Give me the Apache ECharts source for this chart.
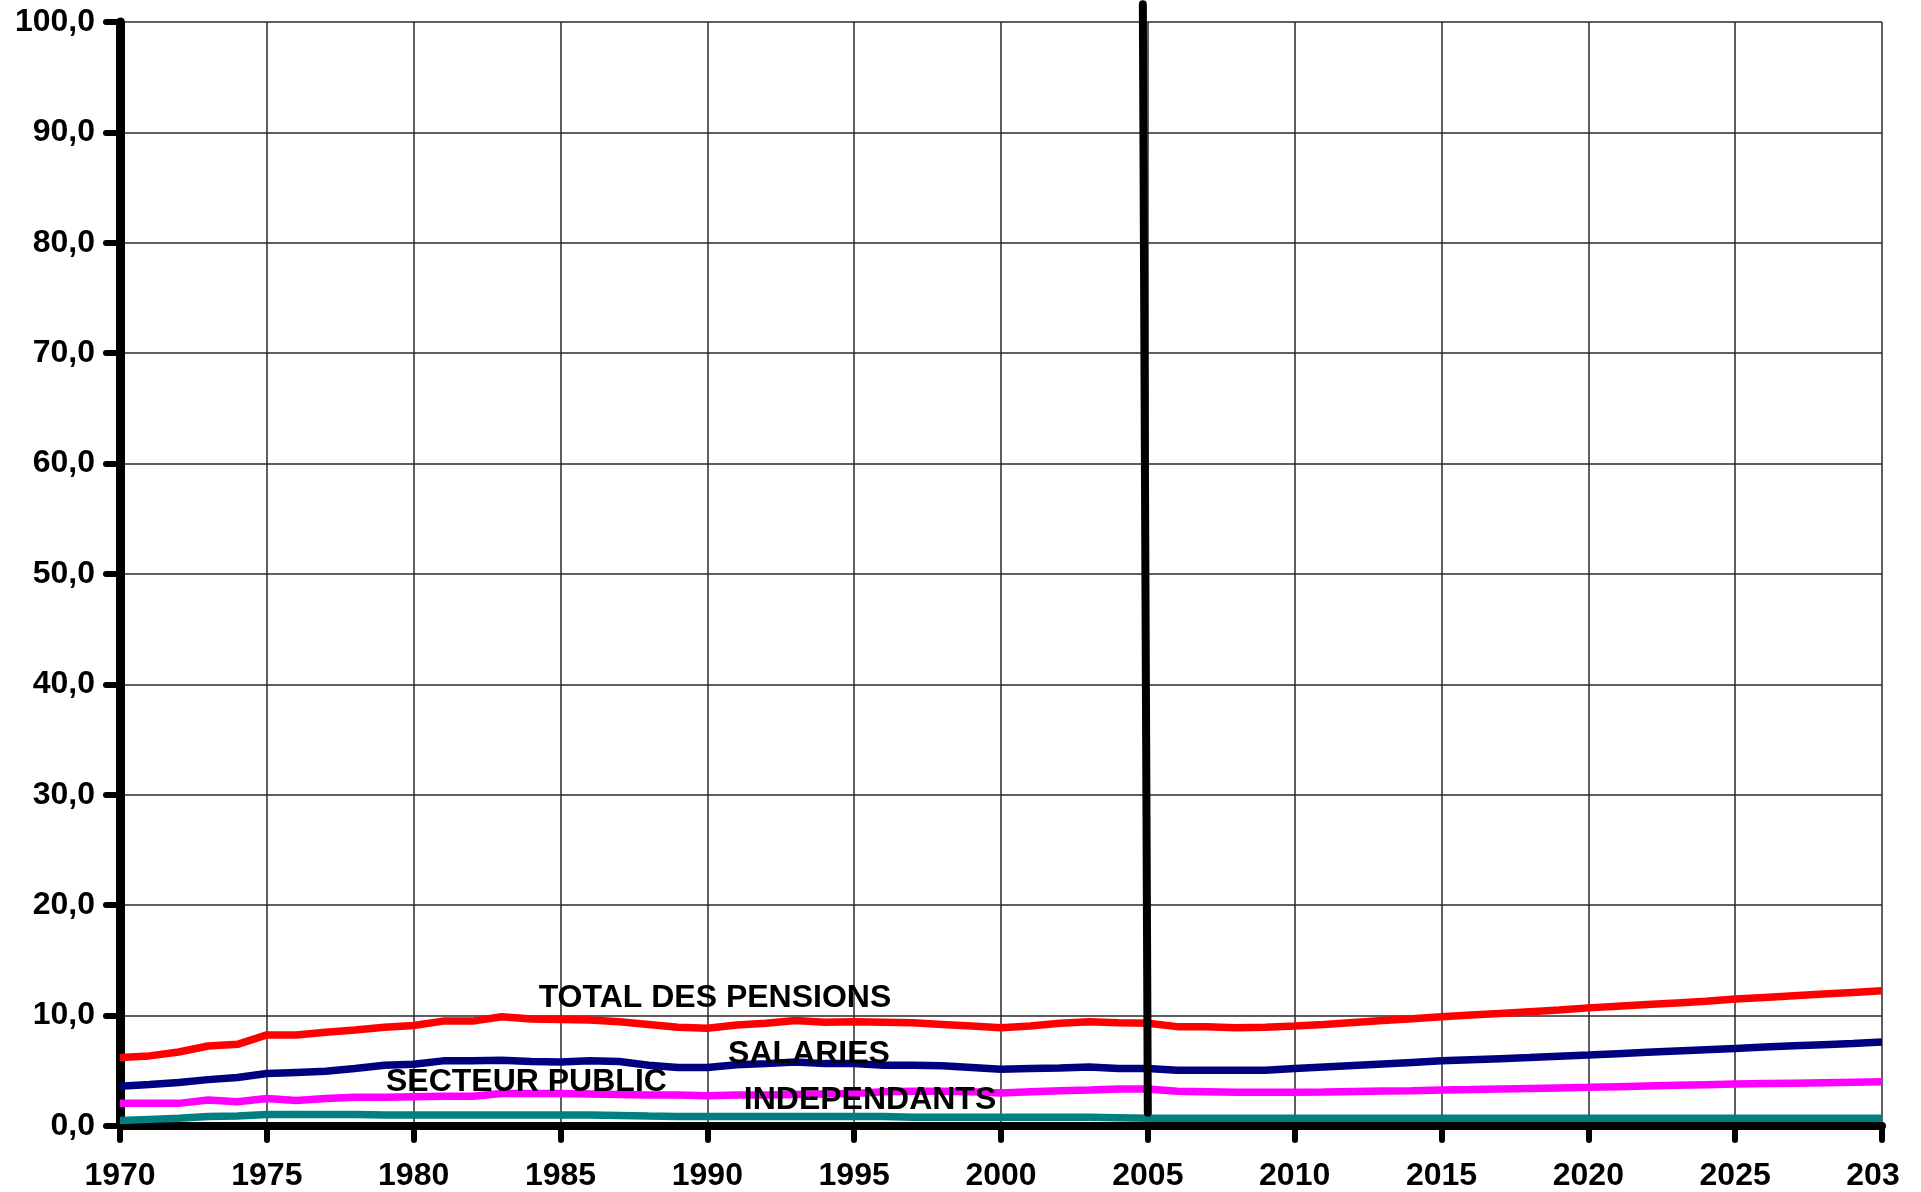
<!DOCTYPE html>
<html>
<head>
<meta charset="utf-8">
<script src="https://cdn.jsdelivr.net/npm/echarts@6/dist/echarts.min.js"></script>
<style>
html,body{margin:0;padding:0;background:#fff;}
#chart{width:1921px;height:1192px;}
</style>
</head>
<body>
<div id="chart"></div>
<script>
const years = [1970,1971,1972,1973,1974,1975,1976,1977,1978,1979,
  1980,1981,1982,1983,1984,1985,1986,1987,1988,1989,
  1990,1991,1992,1993,1994,1995,1996,1997,1998,1999,
  2000,2001,2002,2003,2004,2005,2006,2007,2008,2009,
  2010,2011,2012,2013,2014,2015,2016,2017,2018,2019,
  2020,2021,2022,2023,2024,2025,2026,2027,2028,2029,2030];

const totalPensions = [6.2,6.35,6.7,7.25,7.4,8.25,8.25,8.5,8.7,8.95,
  9.1,9.5,9.5,9.9,9.7,9.65,9.6,9.45,9.2,8.95,
  8.85,9.15,9.3,9.55,9.4,9.45,9.4,9.35,9.2,9.05,
  8.9,9.05,9.3,9.45,9.35,9.3,9.0,9.0,8.9,8.95,
  9.05,9.2,9.38,9.55,9.72,9.9,10.05,10.2,10.35,10.5,
  10.7,10.85,11.0,11.15,11.3,11.5,11.65,11.8,11.95,12.1,12.25];

const salaries = [3.6,3.75,3.95,4.2,4.4,4.75,4.85,4.95,5.2,5.5,
  5.6,5.9,5.9,5.95,5.85,5.8,5.9,5.85,5.5,5.3,
  5.3,5.55,5.65,5.8,5.65,5.65,5.5,5.5,5.45,5.3,
  5.15,5.2,5.25,5.35,5.2,5.2,5.05,5.05,5.05,5.05,
  5.2,5.34,5.48,5.62,5.76,5.9,6.0,6.1,6.2,6.32,
  6.43,6.55,6.67,6.79,6.91,7.03,7.15,7.26,7.37,7.48,7.6];

const secteurPublic = [2.05,2.05,2.05,2.35,2.2,2.5,2.3,2.5,2.6,2.6,
  2.65,2.7,2.7,2.95,2.95,2.95,2.9,2.85,2.8,2.8,
  2.75,2.8,2.8,2.85,2.9,2.95,3.1,3.15,3.15,3.1,
  3.0,3.1,3.2,3.25,3.35,3.35,3.15,3.1,3.05,3.05,
  3.05,3.08,3.12,3.16,3.2,3.26,3.3,3.35,3.4,3.45,
  3.5,3.56,3.62,3.68,3.74,3.8,3.84,3.88,3.92,3.96,4.0];

const independants = [0.5,0.6,0.7,0.85,0.9,1.05,1.05,1.05,1.05,1.0,
  1.0,1.0,1.0,1.0,1.0,1.0,1.0,0.95,0.9,0.87,
  0.87,0.87,0.87,0.87,0.85,0.85,0.85,0.8,0.8,0.8,
  0.8,0.8,0.8,0.8,0.75,0.7,0.7,0.7,0.7,0.7,
  0.7,0.7,0.7,0.7,0.7,0.7,0.7,0.7,0.7,0.7,
  0.7,0.7,0.7,0.7,0.7,0.7,0.7,0.7,0.7,0.7,0.7];

// 2005 break line (year, value) endpoints
const ruptureLine = [[2004.83, 101.6], [2005, 1.2]];

const FONT = '"Liberation Sans", Arial, sans-serif';
const pair = arr => years.map((y, i) => [y, arr[i]]);

function labelPoint(name, coord) {
  return {
    symbol: 'rect', symbolSize: 0, silent: true,
    label: {show: true, position: 'inside', color: '#000', fontFamily: FONT,
      fontWeight: 'bold', fontSize: 32, formatter: name},
    data: [{coord: coord}]
  };
}

const chart = echarts.init(document.getElementById('chart'), null, {renderer: 'canvas'});
chart.setOption({
  animation: false,
  backgroundColor: '#fff',
  grid: {left: 120, right: 39, top: 22, bottom: 66, containLabel: false},
  xAxis: {
    type: 'value', min: 1970, max: 2030, interval: 5,
    axisLine: {show: true, onZero: false, lineStyle: {color: '#000', width: 8, cap: 'round'}},
    axisTick: {show: true, length: 14, lineStyle: {color: '#000', width: 6, cap: 'round'}},
    axisLabel: {
      color: '#000', fontFamily: FONT, fontWeight: 'bold', fontSize: 32, margin: 34,
      formatter: v => v === 2030 ? '{c|203}' : String(v),
      rich: {c: {color: '#000', fontFamily: FONT, fontWeight: 'bold', fontSize: 32, padding: [0, 18, 0, 0]}}
    },
    splitLine: {show: true, lineStyle: {color: '#2a2a2a', width: 1.5}}
  },
  yAxis: {
    type: 'value', min: 0, max: 100, interval: 10,
    axisLine: {show: true, onZero: false, lineStyle: {color: '#000', width: 9, cap: 'round'}},
    axisTick: {show: true, length: 14, lineStyle: {color: '#000', width: 6, cap: 'round'}},
    axisLabel: {color: '#000', fontFamily: FONT, fontWeight: 'bold', fontSize: 32, margin: 25,
      formatter: v => v.toFixed(1).replace('.', ',')},
    splitLine: {show: true, lineStyle: {color: '#2a2a2a', width: 1.5}}
  },
  series: [
    {name: 'INDEPENDANTS', type: 'line', data: pair(independants), showSymbol: false, z: 3,
      lineStyle: {color: '#008080', width: 7.5}, itemStyle: {color: '#008080'},
      markPoint: labelPoint('INDEPENDANTS', [1995.54, 2.31])},
    {name: 'SECTEUR PUBLIC', type: 'line', data: pair(secteurPublic), showSymbol: false, z: 3,
      lineStyle: {color: '#FF00FF', width: 7.5}, itemStyle: {color: '#FF00FF'},
      markPoint: labelPoint('SECTEUR PUBLIC', [1983.84, 3.94])},
    {name: 'SALARIES', type: 'line', data: pair(salaries), showSymbol: false, z: 3,
      lineStyle: {color: '#000080', width: 7.5}, itemStyle: {color: '#000080'},
      markPoint: labelPoint('SALARIES', [1993.46, 6.47])},
    {name: 'TOTAL DES PENSIONS', type: 'line', data: pair(totalPensions), showSymbol: false, z: 3,
      lineStyle: {color: '#FF0000', width: 7.5}, itemStyle: {color: '#FF0000'},
      markPoint: labelPoint('TOTAL DES PENSIONS', [1990.26, 11.55])},
    {name: 'rupture', type: 'line', data: ruptureLine, showSymbol: false, clip: false, z: 5,
      silent: true, lineStyle: {color: '#000', width: 8, cap: 'round'}}
  ]
});
</script>
</body>
</html>
